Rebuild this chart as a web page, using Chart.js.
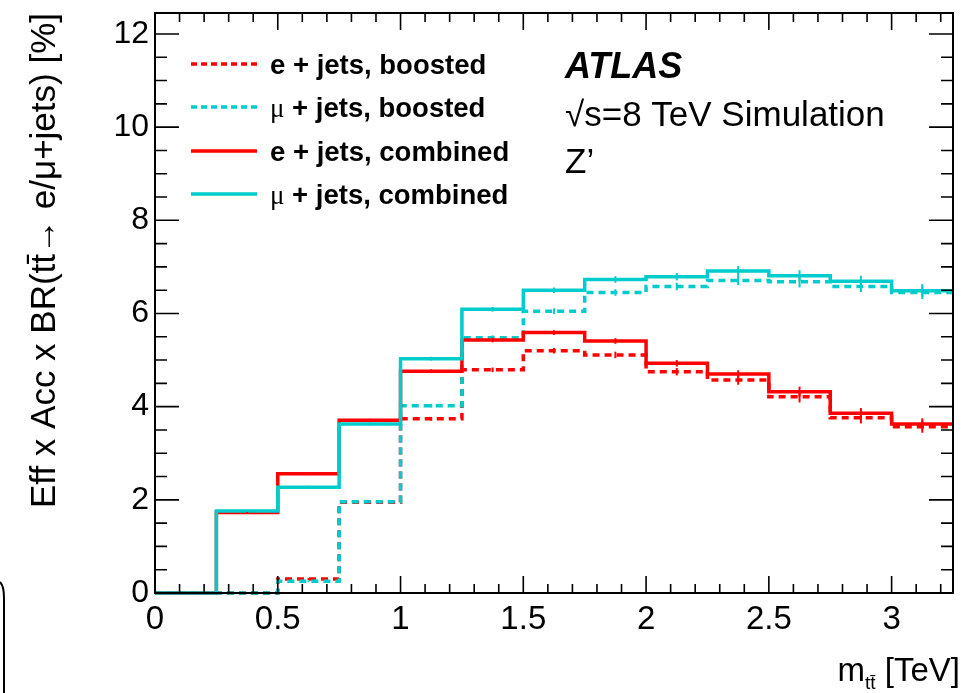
<!DOCTYPE html>
<html>
<head>
<meta charset="utf-8">
<script src="https://cdn.jsdelivr.net/npm/chart.js@4.4.0/dist/chart.umd.min.js"></script>
<style>
  html, body { margin: 0; padding: 0; background: #fff; }
  #wrap { width: 973px; height: 693px; }
</style>
</head>
<body>
<div id="wrap"><canvas id="chart" width="973" height="693"></canvas></div>
<script>
// bin edges in TeV (13 bins of 0.25)
var binEdges = [0, 0.25, 0.5, 0.75, 1.0, 1.25, 1.5, 1.75, 2.0, 2.25, 2.5, 2.75, 3.0, 3.25];

// efficiency x acceptance x BR [%], one value per bin
var eBoosted   = [0, 0, 0.30, 1.95, 3.74, 4.79, 5.20, 5.11, 4.75, 4.57, 4.21, 3.76, 3.57];
var muBoosted  = [0, 0, 0.25, 1.96, 4.02, 5.48, 6.05, 6.45, 6.58, 6.71, 6.68, 6.58, 6.45];
var eCombined  = [0, 1.73, 2.56, 3.71, 4.76, 5.43, 5.59, 5.41, 4.93, 4.70, 4.32, 3.86, 3.63];
var muCombined = [0, 1.76, 2.27, 3.63, 5.03, 6.09, 6.50, 6.73, 6.79, 6.91, 6.81, 6.69, 6.49];

// statistical uncertainties per bin
var eBoostedErr   = [0, 0, 0.02, 0.03, 0.04, 0.05, 0.06, 0.07, 0.08, 0.10, 0.12, 0.12, 0.13];
var muBoostedErr  = [0, 0, 0.02, 0.03, 0.04, 0.05, 0.06, 0.07, 0.08, 0.10, 0.12, 0.12, 0.14];
var eCombinedErr  = [0, 0.02, 0.03, 0.03, 0.04, 0.05, 0.05, 0.06, 0.07, 0.08, 0.11, 0.11, 0.12];
var muCombinedErr = [0, 0.02, 0.03, 0.03, 0.04, 0.05, 0.06, 0.07, 0.08, 0.11, 0.12, 0.12, 0.14];

var seriesLabels = ["e + jets, boosted", "\u03bc + jets, boosted", "e + jets, combined", "\u03bc + jets, combined"];

// axis ticks
var xTicks = [0, 0.5, 1, 1.5, 2, 2.5, 3];
var yTicks = [0, 2, 4, 6, 8, 10, 12];

var RED = "rgb(255,0,0)";
var CYAN = "rgb(0,204,204)";
var FONT = "'Liberation Sans', Arial, Helvetica, sans-serif";
var DASH = [7, 5];

// turn bin contents into points for a stepped line
function histPoints(vals) {
  var pts = vals.map(function(v, i) { return { x: binEdges[i], y: v }; });
  pts.push({ x: binEdges[binEdges.length - 1], y: vals[vals.length - 1] });
  return pts;
}

function histDataset(label, vals, errs, color, dashed, order) {
  return {
    label: label,
    data: histPoints(vals),
    errors: errs,
    values: vals,
    borderColor: color,
    backgroundColor: color,
    borderWidth: 3.5,
    borderDash: dashed ? DASH : [],
    stepped: true,
    pointRadius: 0,
    fill: false,
    clip: 6,
    order: order
  };
}

var decor = {
  id: "decor",
  afterDatasetsDraw: function(chart) {
    var ctx = chart.ctx;
    var xs = chart.scales.x, ys = chart.scales.y;
    ctx.save();
    // error bars at bin centres
    chart.data.datasets.forEach(function(ds) {
      ctx.strokeStyle = ds.borderColor;
      ctx.lineWidth = 2;
      ds.values.forEach(function(v, i) {
        if (v <= 0) return;
        var xc = xs.getPixelForValue((binEdges[i] + binEdges[i + 1]) / 2);
        var e = Math.max(ds.errors[i], 0.015);
        ctx.beginPath();
        ctx.moveTo(xc, ys.getPixelForValue(v - e));
        ctx.lineTo(xc, ys.getPixelForValue(v + e));
        ctx.stroke();
      });
    });
    ctx.restore();
  },
  afterDraw: function(chart) {
    var ctx = chart.ctx;
    var a = chart.chartArea;
    var xs = chart.scales.x, ys = chart.scales.y;
    ctx.save();

    // frame
    ctx.strokeStyle = "#000";
    ctx.lineWidth = 2;
    ctx.strokeRect(a.left, a.top, a.right - a.left, a.bottom - a.top);

    // inward ticks, x (major 0.5, minor 0.1)
    ctx.lineWidth = 1.6;
    for (var k = 0; k <= 32; k++) {
      var px = xs.getPixelForValue(k / 10);
      var len = (k % 5 === 0) ? 17 : 9;
      ctx.beginPath();
      ctx.moveTo(px, a.bottom); ctx.lineTo(px, a.bottom - len);
      ctx.moveTo(px, a.top); ctx.lineTo(px, a.top + len);
      ctx.stroke();
    }
    // inward ticks, y (major 2, minor 0.5)
    for (var j = 0; j <= 24; j++) {
      var py = ys.getPixelForValue(j / 2);
      var ylen = (j % 4 === 0) ? 24 : 12;
      ctx.beginPath();
      ctx.moveTo(a.left, py); ctx.lineTo(a.left + ylen, py);
      ctx.moveTo(a.right, py); ctx.lineTo(a.right - ylen, py);
      ctx.stroke();
    }

    // legend
    var legendRows = [
      { color: RED, dash: true },
      { color: CYAN, dash: true },
      { color: RED, dash: false },
      { color: CYAN, dash: false }
    ];
    var rowY = [64, 107, 151, 194];
    legendRows.forEach(function(r, i) {
      ctx.strokeStyle = r.color;
      ctx.lineWidth = 3.5;
      ctx.setLineDash(r.dash ? [6, 4] : []);
      ctx.beginPath();
      ctx.moveTo(191, rowY[i]); ctx.lineTo(257, rowY[i]);
      ctx.stroke();
      ctx.setLineDash([]);
      ctx.fillStyle = "#000";
      ctx.textBaseline = "alphabetic";
      ctx.textAlign = "left";
      var lab = seriesLabels[i];
      var x0 = 270;
      if (lab.charAt(0) === "\u03bc") {
        ctx.font = "27px 'Liberation Serif', 'DejaVu Serif', serif";
        ctx.fillText("\u03bc", x0, rowY[i] + 10);
        x0 += ctx.measureText("\u03bc").width;
        lab = lab.slice(1);
      }
      ctx.font = "bold 27.5px " + FONT;
      ctx.fillText(lab, x0, rowY[i] + 10);
    });

    // ATLAS label
    ctx.fillStyle = "#000";
    ctx.font = "italic bold 36px " + FONT;
    ctx.fillText("ATLAS", 565, 78);
    ctx.font = "35px " + FONT;
    ctx.fillText("\u221as=8 TeV Simulation", 565, 126);
    ctx.fillText("Z\u2019", 565, 173);

    // x-axis title with subscript
    var main1 = "m", sub = "t\u0074\u0304", main2 = " [TeV]";
    ctx.font = "33px " + FONT;
    var w1 = ctx.measureText(main1).width, w3 = ctx.measureText(main2).width;
    ctx.font = "19px " + FONT;
    var w2 = ctx.measureText(sub).width;
    var xr = 960, base = 681;
    var xstart = xr - w1 - w2 - w3;
    ctx.font = "33px " + FONT;
    ctx.fillText(main1, xstart, base);
    ctx.font = "19px " + FONT;
    ctx.fillText(sub, xstart + w1, base + 8);
    ctx.font = "33px " + FONT;
    ctx.fillText(main2, xstart + w1 + w2, base);

    // edge of a neighbouring panel at lower left
    ctx.strokeStyle = "#000";
    ctx.lineWidth = 2;
    ctx.beginPath();
    ctx.moveTo(0, 582);
    ctx.quadraticCurveTo(4, 586, 4, 598);
    ctx.lineTo(4, 693);
    ctx.stroke();

    ctx.restore();
  }
};

var chart = new Chart(document.getElementById("chart"), {
  type: "line",
  data: {
    datasets: [
      histDataset(seriesLabels[0], eBoosted, eBoostedErr, RED, true, 3),
      histDataset(seriesLabels[1], muBoosted, muBoostedErr, CYAN, true, 2),
      histDataset(seriesLabels[2], eCombined, eCombinedErr, RED, false, 1),
      histDataset(seriesLabels[3], muCombined, muCombinedErr, CYAN, false, 0)
    ]
  },
  options: {
    responsive: false,
    animation: false,
    layout: { padding: { top: 13, right: 20, left: 0, bottom: 0 } },
    plugins: {
      legend: { display: false },
      tooltip: { enabled: false }
    },
    scales: {
      x: {
        type: "linear",
        min: 0,
        max: 3.25,
        afterBuildTicks: function(s) { s.ticks = xTicks.map(function(v) { return { value: v }; }); },
        afterFit: function(s) { s.height = 100; s.paddingLeft = 0; s.paddingRight = 0; },
        grid: { display: false, drawTicks: false },
        border: { display: false },
        ticks: {
          autoSkip: false,
          maxRotation: 0,
          padding: 7,
          color: "#000",
          font: { family: FONT, size: 33 },
          callback: function(v) { return String(v); }
        }
      },
      y: {
        min: 0,
        max: 12.45,
        afterBuildTicks: function(s) { s.ticks = yTicks.map(function(v) { return { value: v }; }); },
        afterFit: function(s) { s.width = 155; s.paddingTop = 0; s.paddingBottom = 0; },
        grid: { display: false, drawTicks: false },
        border: { display: false },
        ticks: {
          padding: 6,
          color: "#000",
          font: { family: FONT, size: 32 },
          callback: function(v) { return String(v); }
        },
        title: {
          display: true,
          text: "Eff x Acc x BR(t\u0074\u0304\u2192 e/\u03bc+jets) [%]",
          align: "end",
          color: "#000",
          font: { family: FONT, size: 35 },
          padding: { top: 24, bottom: 0 }
        }
      }
    }
  },
  plugins: [decor]
});
</script>
</body>
</html>
